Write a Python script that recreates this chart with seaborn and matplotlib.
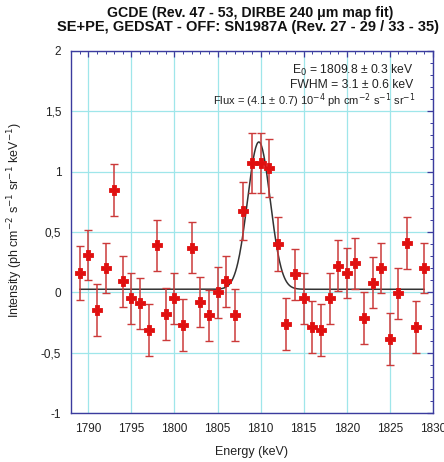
import numpy as np
import pandas as pd
import matplotlib
matplotlib.use("Agg")
import matplotlib.pyplot as plt
from matplotlib.ticker import MultipleLocator
import seaborn as sns

# ---- data ----
energy = [1789, 1790, 1791, 1792, 1793, 1794, 1795, 1796, 1797, 1798,
          1799, 1800, 1801, 1802, 1803, 1804, 1805, 1806, 1807, 1808,
          1809, 1810, 1811, 1812, 1813, 1814, 1815, 1816, 1817, 1818,
          1819, 1820, 1821, 1822, 1823, 1824, 1825, 1826, 1827, 1828, 1829]
intensity = [0.16, 0.31, -0.15, 0.20, 0.85, 0.09, -0.05, -0.09, -0.31, 0.39,
             -0.18, -0.05, -0.27, 0.37, -0.08, -0.19, 0.00, 0.09, -0.19, 0.67,
             1.07, 1.07, 1.03, 0.40, -0.26, 0.15, -0.05, -0.29, -0.31, -0.05,
             0.22, 0.16, 0.24, -0.21, 0.08, 0.20, -0.39, -0.01, 0.41, -0.29, 0.20]
error = [0.22, 0.21, 0.215, 0.21, 0.215, 0.21, 0.21, 0.21, 0.215, 0.21,
         0.215, 0.21, 0.215, 0.21, 0.21, 0.21, 0.21, 0.21, 0.215, 0.24,
         0.25, 0.25, 0.24, 0.22, 0.215, 0.21, 0.21, 0.215, 0.215, 0.21,
         0.21, 0.21, 0.21, 0.215, 0.21, 0.21, 0.215, 0.21, 0.215, 0.215, 0.21]

# fit parameters (from the annotation)
fit_e0 = 1809.8
fit_fwhm = 3.1
fit_amp = 1.22
fit_base = 0.025

xticks = [1790, 1795, 1800, 1805, 1810, 1815, 1820, 1825, 1830]
yticks = [-1, -0.5, 0, 0.5, 1, 1.5, 2]
ytick_labels = ["-1", "-0,5", "0", "0,5", "1", "1,5", "2"]

df = pd.DataFrame({"energy": energy, "intensity": intensity, "error": error})
sig = fit_fwhm / 2.3548
xf = np.linspace(energy[0], energy[-1], 600)
fit = pd.DataFrame({"energy": xf,
                    "model": fit_base + fit_amp * np.exp(-0.5 * ((xf - fit_e0) / sig) ** 2)})

sns.set_style("white")
plt.rcParams['font.family'] = ['Liberation Sans', 'DejaVu Sans']

fig = plt.figure(figsize=(4.44, 4.62), dpi=100)
ax = fig.add_axes([0.160, 0.106, 0.815, 0.784])

frame_col = "#3b3b9e"
grid_col = "#9fe6ea"
red = "#e01010"
ered = "#cc3a3a"

ax.set_xlim(1788, 1830)
ax.set_ylim(-1, 2)
ax.set_xticks(xticks)
ax.set_yticks(yticks)
ax.set_yticklabels(ytick_labels)
ax.xaxis.set_minor_locator(MultipleLocator(1))
ax.yaxis.set_minor_locator(MultipleLocator(0.1))
ax.grid(True, which="major", color=grid_col, lw=0.9)
ax.set_axisbelow(True)
for s in ax.spines.values():
    s.set_color(frame_col)
    s.set_linewidth(1.0)
ax.tick_params(which="both", direction="in", top=True, right=True,
               color=frame_col, labelsize=8.5, labelcolor="#222222")
ax.tick_params(which="major", length=4, width=0.9, pad=7)
ax.tick_params(which="minor", length=2, width=0.7)

sns.lineplot(data=fit, x="energy", y="model", ax=ax, color="#333333", lw=1.1, zorder=2)
ax.errorbar(df["energy"], df["intensity"], yerr=df["error"], fmt="none",
            ecolor=ered, elinewidth=1.1, capsize=3, capthick=1.0, zorder=3)
sns.scatterplot(data=df, x="energy", y="intensity", ax=ax, marker="P", s=50,
                color=red, edgecolor=red, linewidth=0.6, zorder=4)

ax.set_xlabel("Energy (keV)", fontsize=9, color="#222222", labelpad=8)
ax.set_ylabel("Intensity (ph cm$^{-2}$ s$^{-1}$ sr$^{-1}$ keV$^{-1}$)",
              fontsize=9, color="#222222")
ax.yaxis.set_label_coords(-0.127, 0.533)

ax.text(0.945, 0.966, "E$_0$ = 1809.8 ± 0.3 keV", transform=ax.transAxes,
        ha="right", va="top", fontsize=8.7, color="#222222")
ax.text(0.945, 0.921, "FWHM = 3.1 ± 0.6 keV", transform=ax.transAxes,
        ha="right", va="top", fontsize=8.7, color="#222222")
ax.text(0.953, 0.888, "Flux = (4.1 ± 0.7) 10$^{-4}$ ph cm$^{-2}$ s$^{-1}$ sr$^{-1}$",
        transform=ax.transAxes, ha="right", va="top", fontsize=8, color="#222222")

fig.text(0.564, 0.971, "GCDE (Rev. 47 - 53, DIRBE 240 μm map fit)",
         ha="center", va="center", fontsize=10.2, fontweight="bold", color="#111111")
fig.text(0.559, 0.941, "SE+PE, GEDSAT - OFF: SN1987A (Rev. 27 - 29 / 33 - 35)",
         ha="center", va="center", fontsize=10.5, fontweight="bold", color="#111111")

fig.savefig("out.png", dpi=100)
